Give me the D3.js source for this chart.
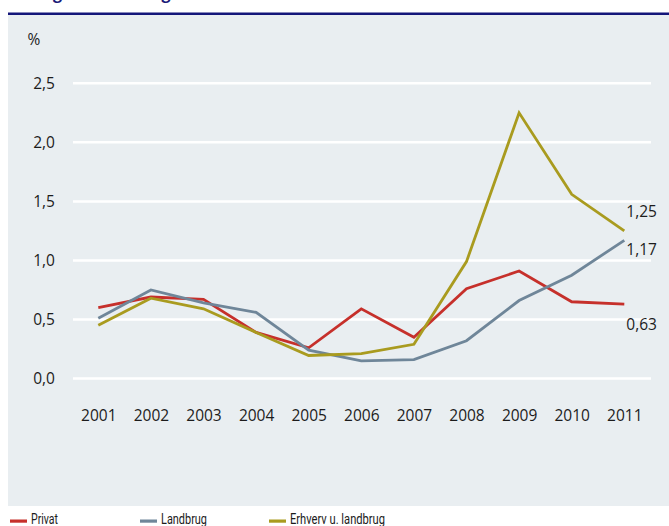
<!DOCTYPE html>
<html>
<head>
<meta charset="utf-8">
<script src="https://cdn.jsdelivr.net/npm/d3@7"></script>
<style>
    body { margin: 0; background: #fff; }
    svg { display: block; }
</style>
</head>
<body>
<div id="chart"></div>
<script>
const years = [2001, 2002, 2003, 2004, 2005, 2006, 2007, 2008, 2009, 2010, 2011];
const privat = [0.60, 0.69, 0.67, 0.39, 0.26, 0.59, 0.35, 0.76, 0.91, 0.65, 0.63];
const landbrug = [0.51, 0.75, 0.64, 0.56, 0.24, 0.15, 0.16, 0.32, 0.66, 0.875, 1.17];
const erhverv = [0.45, 0.68, 0.59, 0.39, 0.195, 0.21, 0.29, 0.99, 2.25, 1.56, 1.25];
const seriesNames = ["Privat", "Landbrug", "Erhverv u. landbrug"];
const yTicks = [0, 0.5, 1.0, 1.5, 2.0, 2.5];

const W = 669, H = 526;
const colors = ["#c6302b", "#6f8699", "#a99b1f"];
const textCol = "#1c1c1c";
const fmt = d3.format(".1f");
const comma = s => s.replace(".", ",");

const svg = d3.select("#chart").append("svg")
    .attr("width", W)
    .attr("height", H);

// title (cut off at the top edge in the original)
svg.append("text")
    .attr("x", 10)
    .attr("y", -1.5)
    .attr("font-family", "Open Sans")
    .attr("font-weight", "bold")
    .attr("font-size", 16)
    .attr("fill", "#1a1a78")
    .text("Tab og nedskrivninger");

svg.append("rect")
    .attr("x", 8).attr("y", 15)
    .attr("width", W - 8).attr("height", 491)
    .attr("fill", "#e9eef1");

svg.append("line")
    .attr("x1", 8).attr("x2", W)
    .attr("y1", 13.8).attr("y2", 13.8)
    .attr("stroke", "#14167a")
    .attr("stroke-width", 2.4);

const x = d3.scalePoint().domain(years).range([98.3, 624.3]);
const y = d3.scaleLinear().domain([0, 2.5]).range([378.5, 83.3]);

// gridlines
svg.append("g").selectAll("line")
    .data(yTicks)
    .enter()
    .append("line")
    .attr("x1", 73).attr("x2", 651)
    .attr("y1", d => y(d)).attr("y2", d => y(d))
    .attr("stroke", "#fff")
    .attr("stroke-width", 2.5);

// y axis labels
const yAxis = svg.append("g")
    .attr("transform", "translate(62,0)")
    .call(d3.axisLeft(y).tickValues(yTicks).tickSize(0).tickPadding(7)
        .tickFormat(d => comma(fmt(d))));
yAxis.select(".domain").remove();
yAxis.selectAll("text")
    .attr("font-family", "Open Sans")
    .attr("font-size", 15.5)
    .attr("fill", textCol);

svg.append("text")
    .attr("x", 34).attr("y", 45)
    .attr("text-anchor", "middle")
    .attr("font-family", "Open Sans")
    .attr("font-size", 15.5)
    .attr("fill", textCol)
    .text("%");

// x axis labels
const xAxis = svg.append("g")
    .attr("transform", "translate(0,407)")
    .call(d3.axisBottom(x).tickSize(0).tickPadding(3));
xAxis.select(".domain").remove();
xAxis.selectAll("text")
    .attr("font-family", "Open Sans")
    .attr("font-size", 15.5)
    .attr("fill", textCol);

// lines
const allSeries = [privat, landbrug, erhverv];
const line = d3.line()
    .x((d, i) => x(years[i]))
    .y(d => y(d));

svg.append("g").selectAll("path")
    .data(allSeries)
    .enter()
    .append("path")
    .attr("fill", "none")
    .attr("stroke", (d, i) => colors[i])
    .attr("stroke-width", 2.8)
    .attr("stroke-linejoin", "miter")
    .attr("d", line);

// end value labels
const endLabels = [
    {v: erhverv[10], dy: -14},
    {v: landbrug[10], dy: 15},
    {v: privat[10], dy: 26}
];
svg.append("g").selectAll("text")
    .data(endLabels)
    .enter()
    .append("text")
    .attr("x", x(2011) + 2)
    .attr("y", d => y(d.v) + d.dy)
    .attr("font-family", "Open Sans")
    .attr("font-size", 15.5)
    .attr("fill", textCol)
    .text(d => comma(d3.format(".2f")(d.v)));

// legend
const legendX = [10, 140, 269];
const legendW = [27, 46, 95];
const legend = svg.append("g").selectAll("g")
    .data(seriesNames)
    .enter()
    .append("g")
    .attr("transform", (d, i) => "translate(" + legendX[i] + ",0)");
legend.append("rect")
    .attr("x", 0).attr("y", 519.5)
    .attr("width", 17).attr("height", 3.2)
    .attr("fill", (d, i) => colors[i]);
legend.append("text")
    .attr("x", 21).attr("y", 523.5)
    .attr("font-family", "Roboto")
    .attr("font-size", 15)
    .attr("fill", textCol)
    .attr("textLength", (d, i) => legendW[i])
    .attr("lengthAdjust", "spacingAndGlyphs")
    .text(d => d);
</script>
</body>
</html>
